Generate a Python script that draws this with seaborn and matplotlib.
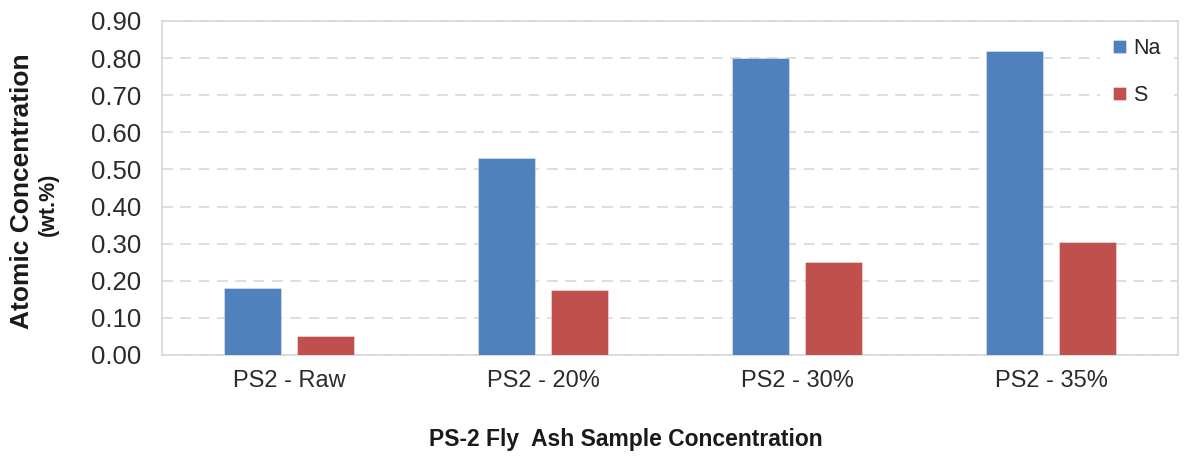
import matplotlib
matplotlib.use("Agg")
import matplotlib.pyplot as plt
import seaborn as sns
import pandas as pd

categories = ["PS2 - Raw", "PS2 - 20%", "PS2 - 30%", "PS2 - 35%"]
series_names = ["Na", "S"]
na_values = [0.18, 0.53, 0.80, 0.82]
s_values = [0.05, 0.175, 0.25, 0.305]
y_ticks = [0.0, 0.1, 0.2, 0.3, 0.4, 0.5, 0.6, 0.7, 0.8, 0.9]

df = pd.DataFrame({
    "cat": categories * 2,
    "series": [series_names[0]] * 4 + [series_names[1]] * 4,
    "val": na_values + s_values,
})

sns.set_theme(style="white")
plt.rcParams["font.family"] = ["Liberation Sans", "DejaVu Sans"]

fig = plt.figure(figsize=(11.85, 4.61), dpi=100)
ax = fig.add_axes([162 / 1185, 1 - 355 / 461, (1178 - 162) / 1185, (355 - 21) / 461])

palette = {"Na": "#4F81BD", "S": "#C0504D"}
sns.barplot(data=df, x="cat", y="val", hue="series", order=categories,
            hue_order=series_names, palette=palette, width=0.571, gap=0.21,
            saturation=1, ax=ax, edgecolor="#FFFFFF", linewidth=0.6, zorder=3)
for p in ax.patches:
    p.set_edgecolor((1, 1, 1, 0.45))

ax.set_ylim(0, 0.9)
ax.set_yticks(y_ticks)
ax.set_yticklabels([f"{t:.2f}" for t in y_ticks], fontsize=18.5, color="#2b2b2b")
ax.tick_params(axis="x", labelsize=17, labelcolor="#2b2b2b", pad=11, length=0)
ax.tick_params(axis="y", pad=15, length=0)
ax.yaxis.grid(True, linestyle=(0, (7, 5)), color="#d4d4d4", linewidth=1.1, zorder=0)
ax.set_axisbelow(True)
for s in ax.spines.values():
    s.set_color("#d9d9d9")
    s.set_linewidth(1.3)

ax.set_xlabel("")
ax.set_ylabel("")
fig.text(626 / 1185, 1 - 439 / 461, "PS-2 Fly  Ash Sample Concentration",
         ha="center", va="center", fontsize=16.5, fontweight="bold", color="#1a1a1a")
fig.text(22 / 1185, 1 - 191 / 461, "Atomic Concentration",
         ha="center", va="center", rotation=90, fontsize=19, fontweight="bold",
         color="#1a1a1a")
fig.text(48 / 1185, 1 - 204 / 461, "(wt.%)",
         ha="center", va="center", rotation=90, fontsize=15.5, fontweight="bold",
         color="#1a1a1a")

leg = ax.legend(loc="upper right", bbox_to_anchor=(1.0, 1.0), frameon=True,
                facecolor="white", edgecolor="white", framealpha=1,
                fontsize=15.5, handlelength=0.6, handleheight=0.6,
                handletextpad=0.35, labelspacing=1.2, borderpad=0.6,
                borderaxespad=0.2)
leg.get_frame().set_linewidth(0)
leg.set_zorder(5)

fig.savefig("out.png", dpi=100)
